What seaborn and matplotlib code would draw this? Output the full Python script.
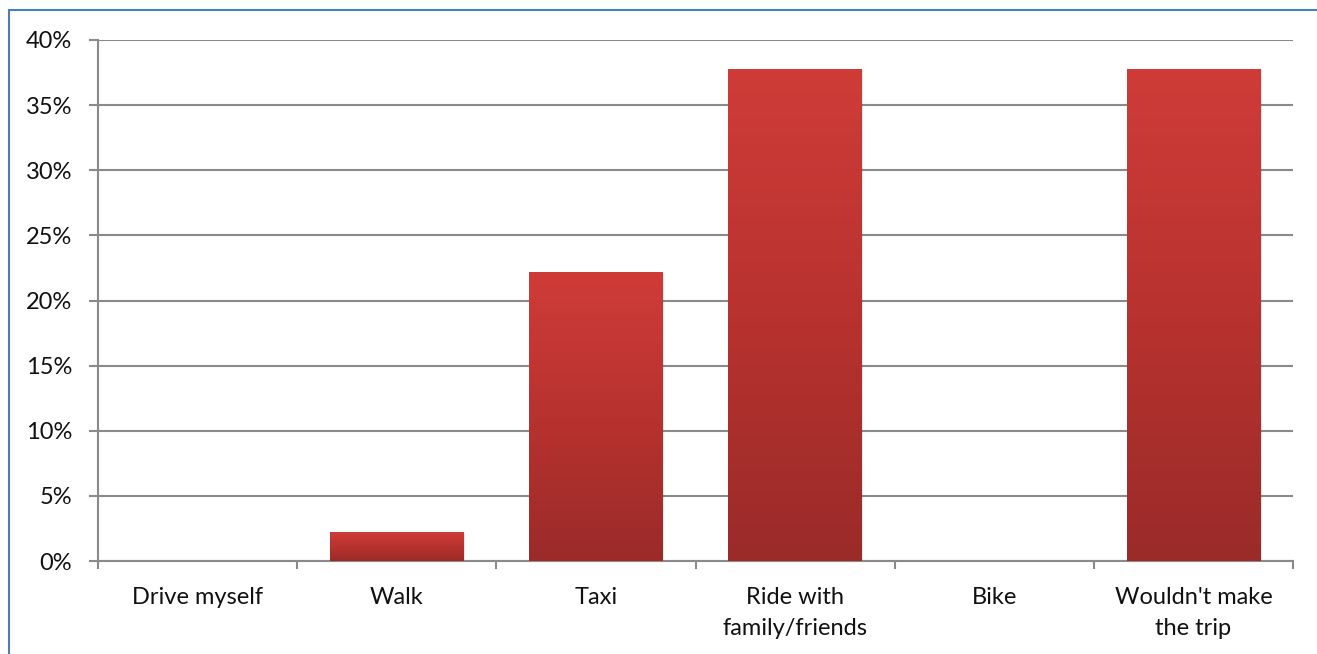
import numpy as np
import pandas as pd
import matplotlib
matplotlib.use("Agg")
import matplotlib.pyplot as plt
import seaborn as sns
from matplotlib.patches import Rectangle
from matplotlib.ticker import FixedLocator, PercentFormatter
from matplotlib.colors import LinearSegmentedColormap

# Survey responses: how people would get around
categories = ["Drive myself", "Walk", "Taxi", "Ride with\nfamily/friends",
              "Bike", "Wouldn't make\nthe trip"]
shares = [0.0, 2.2, 22.2, 37.8, 0.0, 37.8]
y_ticks = [0, 5, 10, 15, 20, 25, 30, 35, 40]

sns.set_theme(style="white")
plt.rcParams["font.family"] = ["Lato", "DejaVu Sans"]

df = pd.DataFrame({"mode": categories, "share": shares})

fig = plt.figure(figsize=(13.17, 6.54), dpi=100)
ax = fig.add_axes([98 / 1317, 1 - 561 / 654, (1293 - 98) / 1317, (561 - 40) / 654])

sns.barplot(data=df, x="mode", y="share", ax=ax, width=0.67,
            color="#B8322F", saturation=1, zorder=3, linewidth=0)

# vertical red gradient on each bar
grad_cmap = LinearSegmentedColormap.from_list("bar_grad", ["#9A2B29", "#B8322F", "#CF3C38"])
grad = np.linspace(0, 1, 256).reshape(-1, 1)
for p in ax.patches:
    x0, y0 = p.get_x(), p.get_y()
    w, h = p.get_width(), p.get_height()
    p.set_linewidth(0)
    p.set_edgecolor("none")
    if h <= 0:
        p.set_visible(False)
        continue
    # soft drop shadow
    ax.add_patch(Rectangle((x0 + 0.008, y0), w, h - 0.1, facecolor="#000000",
                           alpha=0.08, edgecolor="none", zorder=2.5))
    im = ax.imshow(grad, cmap=grad_cmap, aspect="auto", origin="lower",
                   extent=(x0, x0 + w, y0, y0 + h), zorder=4)
    im.set_clip_path(p)
    p.set_facecolor("none")

ax.set_xlim(-0.5, len(categories) - 0.5)
ax.set_ylim(0, 40)
ax.yaxis.set_major_locator(FixedLocator(y_ticks))
ax.yaxis.set_major_formatter(PercentFormatter(decimals=0))

grid_col = "#8A8A8A"
ax.grid(axis="y", color=grid_col, linewidth=1.5, zorder=0)
ax.set_axisbelow(True)
for side in ["top", "right"]:
    ax.spines[side].set_visible(False)
for side in ["left", "bottom"]:
    ax.spines[side].set_color(grid_col)
    ax.spines[side].set_linewidth(1.5)

ax.set_xlabel("")
ax.set_ylabel("")

# category separators as small downward ticks
ax.xaxis.set_minor_locator(FixedLocator(np.arange(-0.5, len(categories), 1.0)))
ax.tick_params(axis="x", which="major", length=0, pad=18.5, labelsize=17,
               labelcolor="#111111")
ax.tick_params(axis="x", which="minor", bottom=True, length=6, width=1.5,
               color=grid_col, direction="out")
ax.tick_params(axis="y", which="major", left=True, length=6.5, width=1.5,
               color=grid_col, pad=12, labelsize=17, labelcolor="#111111")
for lbl in ax.get_xticklabels():
    lbl.set_linespacing(1.6)
    lbl.set_verticalalignment("top")

# chart border
fig.patches.append(Rectangle((9 / 1317, -0.2), 1.2, 1.2 - 10 / 654,
                             transform=fig.transFigure, fill=False,
                             edgecolor="#4A7EBB", linewidth=1.5, zorder=10))

fig.savefig("out.png", dpi=100, facecolor="white")
